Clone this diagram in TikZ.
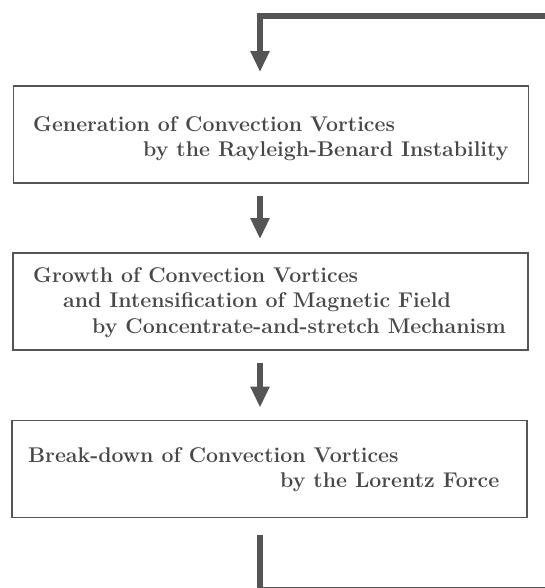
\documentclass[tikz,border=0pt]{standalone}
\usepackage{fontspec}
\usepackage{xcolor}
\definecolor{ink}{RGB}{72,72,72}
\definecolor{inkline}{RGB}{85,85,85}
\usepackage{tikz}
\usetikzlibrary{
    arrows.meta,
    positioning,
    calc
}

\tikzset{
    stagebox/.style={draw=inkline, line width=1.8pt, minimum width=515pt, minimum height=97pt, inner sep=0pt},
    stagetext/.style={anchor=base west, inner sep=0pt, text=ink, font=\fontsize{21.3}{25}\selectfont\bfseries},
    flowline/.style={draw=inkline, line width=5.5pt},
    flowarrow/.style={flowline, -{Triangle[width=18pt,length=21pt]}}
}

\begin{document}
\begin{tikzpicture}[x=1pt, y=-1pt]
        \useasboundingbox (0,0) rectangle (545,588);

        % Stage boxes
        \node[stagebox] (gen) at (271,134.5) {};
        \node[stagebox] (grow) at (270.5,301.5) {};
        \node[stagebox] (brk) at (269.5,469) {};

        % Stage texts
        \node[stagetext] (gen1) at (33,132) {Generation of Convection Vortices};
        \node[stagetext] (gen2) at (143,157) {by the Rayleigh-Benard Instability};

        \node[stagetext] (grow1) at (33,282) {Growth of Convection Vortices};
        \node[stagetext] (grow2) at (63,307.5) {and Intensification of Magnetic Field};
        \node[stagetext] (grow3) at (92,333) {by Concentrate-and-stretch Mechanism};

        \node[stagetext] (brk1) at (28,462) {Break-down of Convection Vortices};
        \node[stagetext] (brk2) at (280,487) {by the Lorentz Force};

        % Flow
        \coordinate (axis) at (260,0);
        \coordinate (feed) at (560,16);
        \coordinate (exit) at (560,590);
        \draw[flowarrow, shorten >=13pt] (feed) -- (feed -| axis) -- (gen.north -| axis);
        \draw[flowarrow, shorten <=12pt, shorten >=13pt] (gen.south -| axis) -- (grow.north -| axis);
        \draw[flowarrow, shorten <=12pt, shorten >=12pt] (grow.south -| axis) -- (brk.north -| axis);
        \draw[flowline, shorten <=17pt] (brk.south -| axis) -- (exit -| axis) -- (exit);
    \end{tikzpicture}
\end{document}
